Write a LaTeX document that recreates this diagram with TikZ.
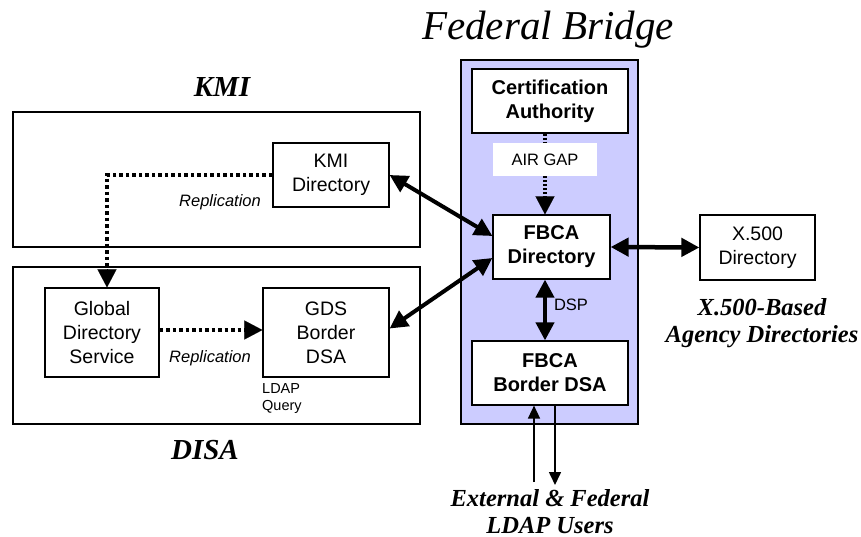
\documentclass[tikz,border=0pt]{standalone}
\usepackage{fontspec}
\setmainfont{Liberation Serif}
\setsansfont{Liberation Sans}
\usetikzlibrary{arrows.meta}
\definecolor{fedfill}{HTML}{CCCCFF}
\begin{document}
\begin{tikzpicture}[x=1pt,y=-1pt,
  box/.style={draw, line width=1.2pt, fill=white, inner sep=0pt, align=center,
    font=\sffamily\fontsize{19.5}{24}\selectfont},
  boldbox/.style={box, font=\sffamily\bfseries\fontsize{20}{24}\selectfont},
  area/.style={draw, line width=1.2pt},
  title/.style={font=\rmfamily\bfseries\itshape\fontsize{24.5}{27}\selectfont, align=center, inner sep=0pt},
  lbl/.style={font=\sffamily\itshape\fontsize{16.5}{19}\selectfont, inner sep=0pt},
  dots/.style={line width=4pt, dash pattern=on 3.5pt off 3pt},
  bigtip/.style={-{Triangle[length=18pt,width=19pt]}},
  dbl/.style={line width=4pt, {Triangle[length=18pt,width=18pt]}-{Triangle[length=18pt,width=18pt]}},
  thin/.style={line width=1.6pt, -{Triangle[length=13pt,width=12pt]}}
]
\useasboundingbox (0,0) rectangle (861,537);

% Areas
\filldraw[fill=fedfill, line width=1.5pt] (461,60) rectangle (638,424);
\draw[area] (13,112) rectangle (420,247);
\draw[area] (13,267) rectangle (420,424);

% Titles
\node[font=\rmfamily\itshape\fontsize{41}{44}\selectfont, inner sep=0pt] (fbtitle) at (548,30) {Federal Bridge};
\node[title, font=\rmfamily\bfseries\itshape\fontsize{29}{32}\selectfont] (kmititle) at (222,87) {KMI};
\node[title, font=\rmfamily\bfseries\itshape\fontsize{29}{32}\selectfont] (disatitle) at (205,450) {DISA};
\node[title] (x500title) at (762,323.5) {X.500-Based\\Agency Directories};
\node[title] (exttitle) at (550,511.5) {External \& Federal\\LDAP Users};

% Boxes
\node[boldbox, minimum width=156pt, minimum height=64pt] (ca) at (550,101) {Certification\\Authority};
\node[fill=white, minimum width=104pt, minimum height=33pt, inner sep=0pt,
  font=\sffamily\fontsize{16.5}{19}\selectfont] (airgap) at (545,159.5) {AIR GAP};
\node[boldbox, minimum width=117pt, minimum height=64pt] (fdir) at (551.5,247) {FBCA\\Directory};
\node[boldbox, minimum width=156pt, minimum height=64pt] (fbdsa) at (550,373) {FBCA\\Border DSA};
\node[box, minimum width=115pt, minimum height=65pt] (x500) at (757.5,247.5) {X.500\\Directory};
\node[box, minimum width=116pt, minimum height=64pt] (kmi) at (331,175) {KMI\\Directory};
\node[box, minimum width=114pt, minimum height=89pt] (gds) at (102,332.5) {Global\\Directory\\Service};
\node[box, minimum width=126pt, minimum height=89pt] (gdsb) at (326,332.5) {GDS\\Border\\DSA};

% Labels
\node[lbl] (rep1) at (220,202) {Replication};
\node[lbl] (rep2) at (210,358) {Replication};
\node[font=\sffamily\fontsize{16.5}{19}\selectfont, inner sep=0pt] (dsp) at (571,305) {DSP};
\node[font=\sffamily\fontsize{14.5}{17}\selectfont, inner sep=0pt, align=left, anchor=west] (ldap) at (262,398.5) {LDAP\\Query};

% Air gap connectors
\draw[line width=4pt, dash pattern=on 2pt off 2pt] (airgap.north |- ca.south) -- (airgap.north);
\draw[line width=4pt, dash pattern=on 2pt off 2pt] (airgap.south) -- ([yshift=16pt]airgap.south |- fdir.north);
\draw[bigtip, line width=0.1pt] ([yshift=18pt]airgap.south |- fdir.north) -- (airgap.south |- fdir.north);

% DSP
\draw[dbl] (fdir.south -| airgap.south) -- (fbdsa.north -| airgap.south);

% Bidirectional links
\draw[dbl] (kmi.east) -- ([yshift=11pt]fdir.west);
\draw[dbl] ([yshift=4pt]gdsb.east) -- ([yshift=-11pt]fdir.west);
\draw[dbl, line width=4.5pt] (fdir.east) -- (x500.west);

% Replication
\coordinate (bend) at (107,175);
\draw[dots] (kmi.west) -- (bend) -- ([yshift=17pt]bend |- gds.north);
\draw[bigtip, line width=0.1pt] ([yshift=18pt]bend |- gds.north) -- (bend |- gds.north);
\draw[dots] ([yshift=2.5pt]gds.east) -- ([yshift=2.5pt,xshift=-17pt]gdsb.west);
\draw[bigtip, line width=0.1pt] ([yshift=2.5pt,xshift=-18pt]gdsb.west) -- ([yshift=2.5pt]gdsb.west);

% LDAP users
\coordinate (uin) at (534,482);
\coordinate (dout) at (555,485);
\draw[thin] (uin) -- (uin |- fbdsa.south);
\draw[thin] (dout |- fbdsa.south) -- (dout);
\end{tikzpicture}
\end{document}
